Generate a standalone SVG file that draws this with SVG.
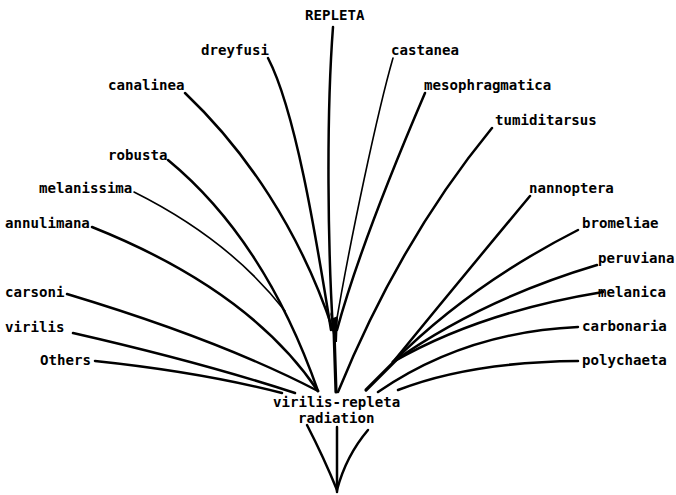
<svg xmlns="http://www.w3.org/2000/svg" width="676" height="495" viewBox="0 0 676 495">
<style>
text{font-family:"DejaVu Sans Mono","Liberation Mono",monospace;font-size:14.1px;fill:#000;font-weight:bold}
.e{fill:none;stroke:#000;stroke-width:2.5;stroke-linecap:round}
.t{stroke-width:1.6}
.k{stroke-width:3.2}
</style>
<rect width="676" height="495" fill="#fff"/>
<g id="connectors">
<path class="e" d="M333,27 C326,120 328,250 333,330"/>
<path class="e" d="M268,58 C295,110 315,230 331,330"/>
<path class="e t" d="M393,58 C378,110 350,240 335,330"/>
<path class="e" d="M425,93 C392,170 356,260 337,330"/>
<path class="e" d="M185,93 C245,150 300,230 333,330"/>
<path class="e k" d="M334,330 L336,392"/>
<path d="M330,312 L333,318 L338,316 L337,342 L334,342 Z" fill="#000"/>
<path class="e" d="M492,128 Q400,240 338,392"/>
<path class="e" d="M168,160 Q265,240 318,391"/>
<path class="e t" d="M134,192 Q230,240 285,311"/>
<path class="e" d="M92,227 Q250,290 318,391"/>
<path class="e" d="M67,294 Q220,340 318,391"/>
<path class="e" d="M73,333 Q200,362 295,393"/>
<path class="e" d="M95,361 Q200,372 282,393"/>
<path class="e" d="M530,196 Q460,280 393,362"/>
<path class="e" d="M578,230 Q470,285 393,362"/>
<path class="e" d="M597,265 Q480,300 393,362"/>
<path class="e" d="M603,292 Q480,312 393,362"/>
<path class="e k" d="M398,358 L366,390"/>
<path class="e" d="M578,327 Q465,332 378,392"/>
<path class="e" d="M578,361 Q470,362 398,390"/>
<path class="e" d="M307,425 Q324,458 337,490"/>
<path class="e" d="M337,427 L337,492"/>
<path class="e" d="M368,430 Q346,456 337,490"/>
</g>
<g id="n-repleta"><text x="305" y="20">REPLETA</text></g>
<g id="n-dreyfusi"><text x="201" y="55">dreyfusi</text></g>
<g id="n-castanea"><text x="391" y="55">castanea</text></g>
<g id="n-canalinea"><text x="108" y="90">canalinea</text></g>
<g id="n-mesophragmatica"><text x="424" y="90">mesophragmatica</text></g>
<g id="n-tumiditarsus"><text x="495" y="125">tumiditarsus</text></g>
<g id="n-robusta"><text x="108" y="160">robusta</text></g>
<g id="n-melanissima"><text x="39" y="193">melanissima</text></g>
<g id="n-annulimana"><text x="5" y="228">annulimana</text></g>
<g id="n-carsoni"><text x="5" y="297">carsoni</text></g>
<g id="n-virilis"><text x="5" y="332">virilis</text></g>
<g id="n-others"><text x="40" y="365">Others</text></g>
<g id="n-nannoptera"><text x="529" y="193">nannoptera</text></g>
<g id="n-bromeliae"><text x="582" y="228">bromeliae</text></g>
<g id="n-peruviana"><text x="598" y="263">peruviana</text></g>
<g id="n-melanica"><text x="598" y="297">melanica</text></g>
<g id="n-carbonaria"><text x="582" y="331">carbonaria</text></g>
<g id="n-polychaeta"><text x="582" y="365">polychaeta</text></g>
<g id="n-radiation"><text x="273" y="407">virilis-repleta</text><text x="298" y="423">radiation</text></g>
</svg>
